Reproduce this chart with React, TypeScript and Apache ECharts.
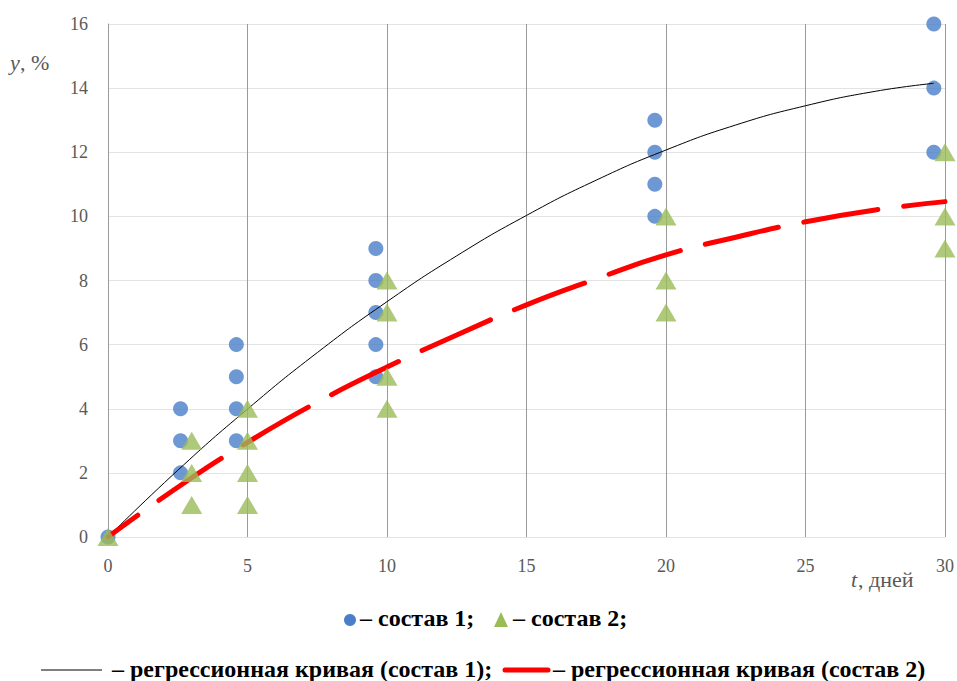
import React, { useEffect, useRef } from "react";
import * as echarts from "echarts";

const xTicks = [0, 5, 10, 15, 20, 25, 30];
const comp1: [number, number][] = [
  [0, 0],
  [2.6, 4], [2.6, 3], [2.6, 2],
  [4.6, 6], [4.6, 5], [4.6, 4], [4.6, 3],
  [9.6, 9], [9.6, 8], [9.6, 7], [9.6, 6], [9.6, 5],
  [19.6, 13], [19.6, 12], [19.6, 11], [19.6, 10],
  [29.6, 16], [29.6, 14], [29.6, 12],
];
const comp2: [number, number][] = [
  [0, 0],
  [3, 3], [3, 2], [3, 1],
  [5, 4], [5, 3], [5, 2], [5, 1],
  [10, 8], [10, 7], [10, 5], [10, 4],
  [20, 10], [20, 8], [20, 7],
  [30, 12], [30, 10], [30, 9],
];
const curveT = [0, 2.5, 5, 7.5, 10, 12.5, 15, 17.5, 20, 22.5, 25, 27.5, 29.6];
const curve1 = [0, 2.08, 3.99, 5.75, 7.34, 8.77, 10.03, 11.13, 12.07, 12.85, 13.45, 13.90, 14.15];
const curve2T = [0, 2.5, 5, 7.5, 10, 12.5, 15, 17.5, 20, 22.5, 25, 27.5, 30];
const curve2 = [0, 1.55, 2.95, 4.2, 5.3, 6.3, 7.24, 8.05, 8.8, 9.35, 9.83, 10.2, 10.46];

const FONT = "Liberation Serif, serif";

export default function App() {
  const ref = useRef<HTMLDivElement>(null);
  useEffect(() => {
    if (!ref.current) return;
    const chart = echarts.init(ref.current, null, { renderer: "svg" });
    const txt = (x: number, y: number, text: string, extra: any = {}) => ({
      type: "text",
      x,
      y,
      style: {
        text,
        fontFamily: FONT,
        fontSize: 24,
        fontWeight: "bold",
        fill: "#000",
        align: "left",
        verticalAlign: "middle",
        ...extra,
      },
    });
    chart.setOption({
      animation: false,
      backgroundColor: "#fff",
      grid: { left: 108, right: 8, top: 24, bottom: 144, containLabel: false },
      xAxis: {
        type: "value",
        min: 0,
        max: 30,
        interval: 5,
        axisLine: { show: false },
        axisTick: { show: false },
        splitLine: { show: true, lineStyle: { color: "#9a9a9a", width: 1 } },
        axisLabel: {
          color: "#595959",
          fontFamily: FONT,
          fontSize: 18,
          margin: 20,
          formatter: (v: number) => (xTicks.includes(v) ? String(v) : ""),
        },
      },
      yAxis: {
        type: "value",
        min: 0,
        max: 16,
        interval: 2,
        axisLine: { show: true, lineStyle: { color: "#9a9a9a" } },
        axisTick: { show: false },
        splitLine: { show: true, lineStyle: { color: "#e3e3e3", width: 1 } },
        axisLabel: { color: "#595959", fontFamily: FONT, fontSize: 18, margin: 20 },
      },
      series: [
        {
          type: "line",
          data: curveT.map((t, i) => [t, curve1[i]]),
          smooth: true,
          symbol: "none",
          lineStyle: { color: "#000", width: 1 },
          z: 3,
        },
        {
          type: "line",
          data: curve2T.map((t, i) => [t, curve2[i]]),
          smooth: true,
          symbol: "none",
          lineStyle: { color: "#ff0000", width: 5, type: [75, 26], dashOffset: 38, cap: "round" },
          z: 3,
        },
        {
          type: "scatter",
          data: comp1,
          symbol: "circle",
          symbolSize: 15,
          itemStyle: { color: "#4a7ec9" },
          z: 2,
        },
        {
          type: "scatter",
          data: comp2,
          symbol: "triangle",
          symbolSize: [21, 18],
          itemStyle: { color: "#9bbb59" },
          z: 4,
        },
      ],
      graphic: [
        txt(10, 62, "y", { fontStyle: "italic", fontWeight: "normal", fontSize: 22, fill: "#595959" }),
        txt(20, 62, ", %", { fontWeight: "normal", fontSize: 22, fill: "#595959" }),
        txt(851, 579, "t", { fontStyle: "italic", fontWeight: "normal", fontSize: 22, fill: "#595959" }),
        txt(858, 579, ", дней", { fontWeight: "normal", fontSize: 22, fill: "#595959" }),
        { type: "circle", shape: { cx: 350, cy: 620, r: 6 }, style: { fill: "#4a7ec9" } },
        txt(360, 618, "– состав 1;"),
        {
          type: "polygon",
          shape: { points: [[501, 612], [494, 627], [508, 627]] },
          style: { fill: "#9bbb59" },
        },
        txt(513, 618, "– состав 2;"),
        {
          type: "line",
          shape: { x1: 41, y1: 670, x2: 102, y2: 670 },
          style: { stroke: "#000", lineWidth: 1 },
        },
        txt(112, 669, "– регрессионная кривая (состав 1);"),
        {
          type: "line",
          shape: { x1: 505, y1: 670, x2: 548, y2: 670 },
          style: { stroke: "#ff0000", lineWidth: 5, lineCap: "round" },
        },
        txt(553, 669, "– регрессионная кривая (состав 2)"),
      ],
    });
    return () => chart.dispose();
  }, []);
  return <div ref={ref} style={{ width: 957, height: 681, position: "absolute", left: 0, top: 0 }} />;
}
